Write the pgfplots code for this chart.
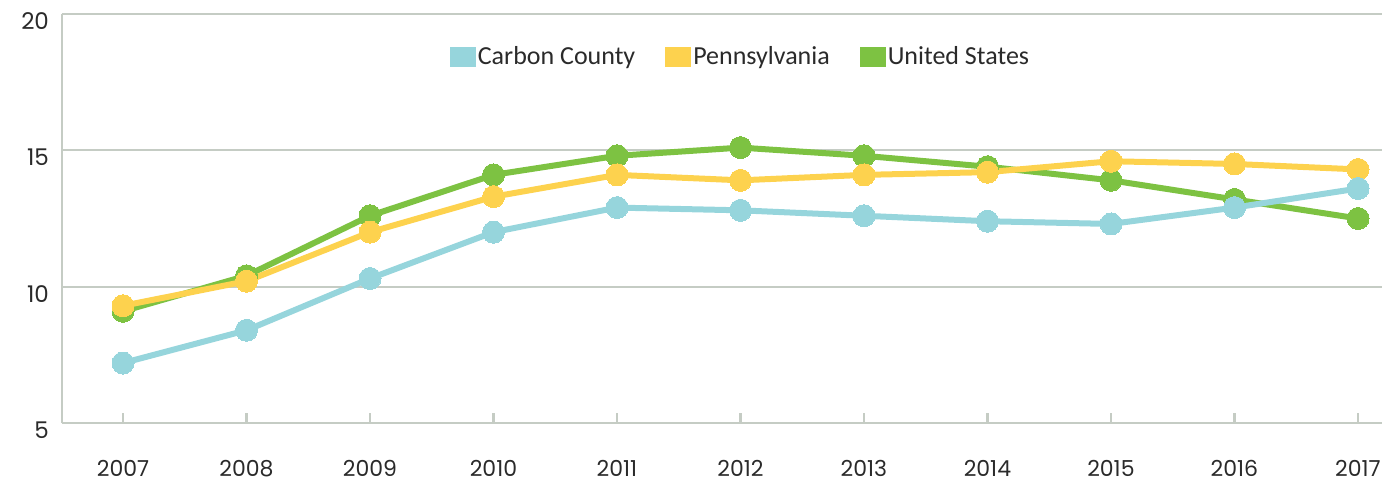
\documentclass[border=0pt]{standalone}
\usepackage{pgfplots}
\pgfplotsset{compat=1.18}
\usepackage{fontspec}
\setmainfont{Poppins}
\newfontfamily\legendfont{Carlito}

\definecolor{cblue}{HTML}{96D5DC}
\definecolor{cyellow}{HTML}{FDD24E}
\definecolor{cgreen}{HTML}{7DC242}
\definecolor{axisgray}{HTML}{C5CCC4}
\definecolor{txtgray}{HTML}{2A2A2A}

\begin{document}
\begin{tikzpicture}
\path[use as bounding box] (-31pt,-29.5pt) rectangle (660pt,211.5pt);
\begin{axis}[
  scale only axis,
  width=660pt, height=204.5pt,
  xmin=2006.506, xmax=2017.194,
  ymin=5, ymax=20,
  axis lines*=left,
  axis line style={axisgray, line width=1.3pt},
  xtick={2007,...,2017},
  xticklabel style={/pgf/number format/1000 sep={}, font=\fontsize{11}{13}\selectfont, text=txtgray, yshift=-15pt},
  ytick={5,10,15,20},
  yticklabel style={font=\fontsize{11.5}{13}\selectfont, text=txtgray, yshift=-3.5pt, xshift=-3pt},
  /pgf/number format/assume math mode=true,
  xtick align=inside,
  major tick length=5pt,
  xtick style={axisgray, line width=1.1pt},
  ytick style={draw=none},
  ymajorgrids,
  grid style={axisgray, line width=1.1pt},
  clip=false,
  legend columns=3,
  legend style={draw=none, fill=none, at={(0.514,0.895)}, anchor=center,
    font=\legendfont\fontsize{13}{15}\selectfont, text=txtgray,
    nodes={inner sep=1pt},
    /tikz/every even column/.append style={column sep=14pt}},
  legend image code/.code={\fill[#1, draw=none] (0pt,-5pt) rectangle (13pt,5pt);},
  every axis plot/.append style={line width=3pt, mark=*, mark size=5.5pt},
]
% United States
\addplot[forget plot, color=cgreen, mark options={fill=cgreen, draw=cgreen, line width=0pt}] coordinates {
 (2007,9.1) (2008,10.4) (2009,12.6) (2010,14.1) (2011,14.8) (2012,15.1)
 (2013,14.8) (2014,14.4) (2015,13.9) (2016,13.2) (2017,12.5)};
% Pennsylvania
\addplot[forget plot, color=cyellow, mark options={fill=cyellow, draw=cyellow, line width=0pt}] coordinates {
 (2007,9.3) (2008,10.2) (2009,12.0) (2010,13.3) (2011,14.1) (2012,13.9)
 (2013,14.1) (2014,14.2) (2015,14.6) (2016,14.5) (2017,14.3)};
% Carbon County
\addplot[forget plot, color=cblue, mark options={fill=cblue, draw=cblue, line width=0pt}] coordinates {
 (2007,7.2) (2008,8.4) (2009,10.3) (2010,12.0) (2011,12.9) (2012,12.8)
 (2013,12.6) (2014,12.4) (2015,12.3) (2016,12.9) (2017,13.6)};
\addlegendimage{color=cblue}\addlegendentry{Carbon County}
\addlegendimage{color=cyellow}\addlegendentry{Pennsylvania}
\addlegendimage{color=cgreen}\addlegendentry{United States}
\end{axis}
\end{tikzpicture}
\end{document}
